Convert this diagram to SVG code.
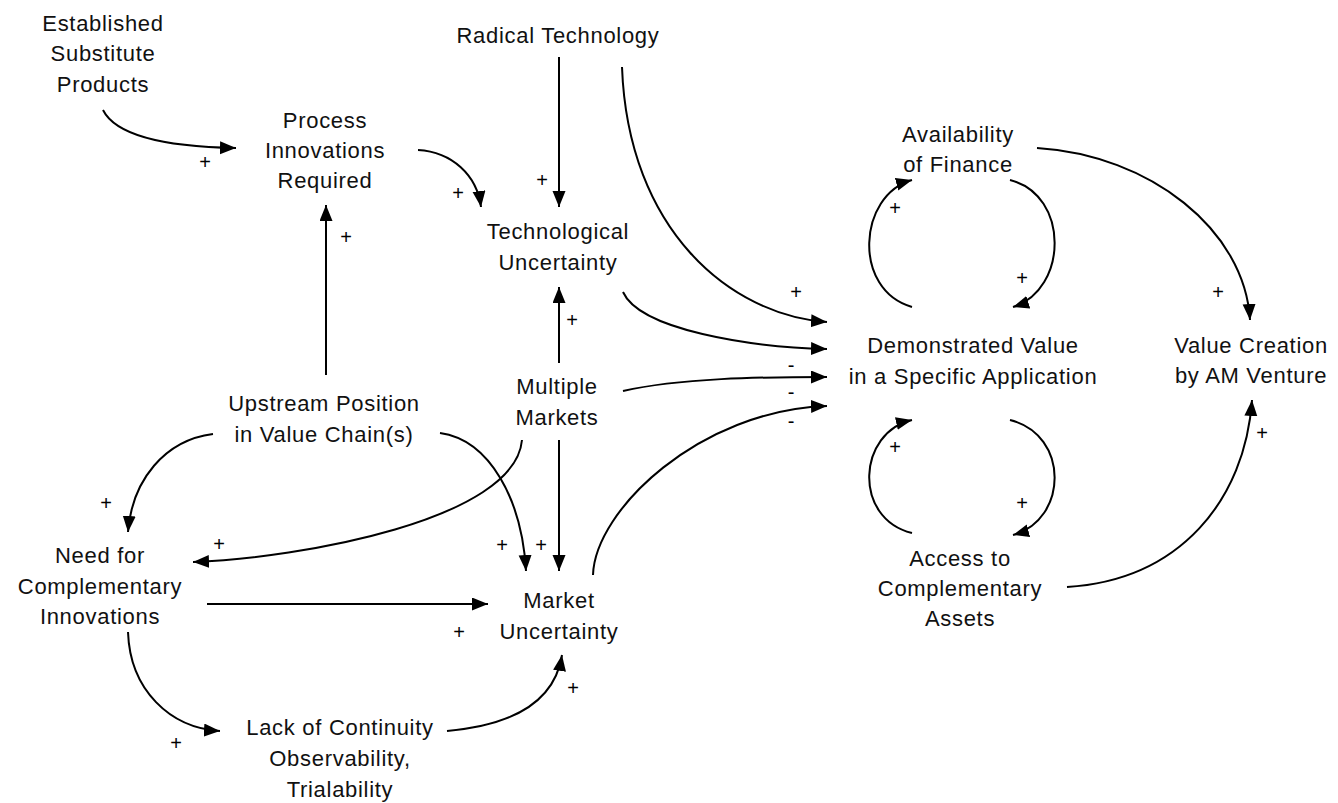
<svg xmlns="http://www.w3.org/2000/svg" width="1338" height="803" viewBox="0 0 1338 803">
<style>
.n text{font-family:"Liberation Sans",Arial,sans-serif;font-size:22px;letter-spacing:0.7px;fill:#111;text-anchor:middle}
.c path{fill:none;stroke:#000;stroke-width:2;marker-end:url(#ah)}
.s text{font-family:"Liberation Sans",Arial,sans-serif;font-size:20px;fill:#000;text-anchor:middle}
</style>
<defs>
<marker id="ah" markerUnits="userSpaceOnUse" markerWidth="18" markerHeight="15" refX="16" refY="6.5" orient="auto"><path d="M0,0 L16,6.5 L0,13 z" fill="#000"/></marker>
</defs>
<rect width="1338" height="803" fill="#fff"/>
<g class="c" id="connectors">
<path d="M103,110 C118,140 180,147 236,148"/>
<path d="M418,150 C452,152 477,175 481,207"/>
<path d="M559,57 L559,207"/>
<path d="M622,67 C628,230 730,315 827,322"/>
<path d="M623,292 C640,330 750,347 827,349"/>
<path d="M623,391 C680,378 760,377 827,377"/>
<path d="M593,575 C595,510 700,410 827,406"/>
<path d="M559,363 L559,287"/>
<path d="M559,440 L559,571"/>
<path d="M326,375 L326,205"/>
<path d="M213,434 C165,440 132,480 128,532"/>
<path d="M440,433 C490,440 522,500 526,571"/>
<path d="M522,440 C515,520 300,558 193,562"/>
<path d="M207,604 L488,604"/>
<path d="M128,632 C130,690 170,728 220,731"/>
<path d="M447,731 C515,725 555,700 562,655"/>
<path d="M1010,180 C1070,195 1068,290 1013,307"/>
<path d="M912,307 C852,290 858,195 912,180"/>
<path d="M1010,420 C1070,435 1068,520 1013,535"/>
<path d="M912,533 C852,518 858,432 912,420"/>
<path d="M1037,148 C1150,155 1245,230 1250,320"/>
<path d="M1067,587 C1180,580 1245,500 1252,400"/>
</g>
<g class="s" id="signs">
<text x="205" y="169">+</text>
<text x="458" y="200">+</text>
<text x="542" y="187">+</text>
<text x="796" y="299">+</text>
<text x="791" y="372">-</text>
<text x="791" y="399">-</text>
<text x="791" y="428">-</text>
<text x="572" y="327">+</text>
<text x="541" y="552">+</text>
<text x="346" y="244">+</text>
<text x="106" y="510">+</text>
<text x="502" y="552">+</text>
<text x="219" y="551">+</text>
<text x="459" y="639">+</text>
<text x="176" y="750">+</text>
<text x="573" y="695">+</text>
<text x="895" y="215">+</text>
<text x="1022" y="285">+</text>
<text x="895" y="454">+</text>
<text x="1022" y="510">+</text>
<text x="1218" y="299">+</text>
<text x="1262" y="440">+</text>
</g>
<g class="n" id="established"><text x="103" y="31">Established</text><text x="103" y="61">Substitute</text><text x="103" y="92">Products</text></g>
<g class="n" id="radical"><text x="558" y="43">Radical Technology</text></g>
<g class="n" id="process"><text x="325" y="128">Process</text><text x="325" y="158">Innovations</text><text x="325" y="188">Required</text></g>
<g class="n" id="tech"><text x="558" y="239">Technological</text><text x="558" y="270">Uncertainty</text></g>
<g class="n" id="finance"><text x="958" y="142">Availability</text><text x="958" y="172">of Finance</text></g>
<g class="n" id="demonstrated"><text x="973" y="353">Demonstrated Value</text><text x="973" y="384">in a Specific Application</text></g>
<g class="n" id="valuecreation"><text x="1251" y="353">Value Creation</text><text x="1251" y="383">by AM Venture</text></g>
<g class="n" id="upstream"><text x="324" y="411">Upstream Position</text><text x="324" y="442">in Value Chain(s)</text></g>
<g class="n" id="multiple"><text x="557" y="394">Multiple</text><text x="557" y="425">Markets</text></g>
<g class="n" id="need"><text x="100" y="563">Need for</text><text x="100" y="594">Complementary</text><text x="100" y="624">Innovations</text></g>
<g class="n" id="market"><text x="559" y="608">Market</text><text x="559" y="639">Uncertainty</text></g>
<g class="n" id="access"><text x="960" y="566">Access to</text><text x="960" y="596">Complementary</text><text x="960" y="626">Assets</text></g>
<g class="n" id="lack"><text x="340" y="735">Lack of Continuity</text><text x="340" y="766">Observability,</text><text x="340" y="797">Trialability</text></g>
</svg>
